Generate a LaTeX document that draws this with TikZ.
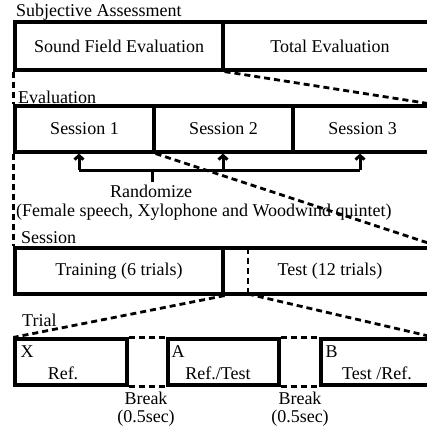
\documentclass[tikz,border=0pt]{standalone}
\usepackage{fontspec}
\setmainfont{Liberation Serif}
\usetikzlibrary{arrows.meta}
\newcommand\figfont{\fontsize{18}{18}\selectfont}

\begin{document}
\begin{tikzpicture}[x=1pt,y=-1pt,
  cell/.style={draw, line width=3.2pt, inner sep=0pt, minimum height=46pt, font=\figfont},
  link/.style={line width=2.8pt, dash pattern=on 6pt off 4pt},
  tag/.style={inner sep=0pt, font=\figfont},
  rnd/.style={line width=3pt}]

  \useasboundingbox (0,0) rectangle (427,428);
  \clip (0,0) rectangle (427,428);

  % subjective assessment
  \node[tag, anchor=west] (lsub) at (16,12) {Subjective Assessment};
  \node[cell, minimum width=208pt, minimum height=48pt] (sfe) at (119,46) {Sound Field Evaluation};
  \node[cell, minimum width=214pt, minimum height=48pt] (tot) at (330,46) {Total Evaluation};

  % evaluation
  \node[tag, anchor=west] (leval) at (18,97) {Evaluation};
  \node[cell, minimum width=139pt] (s1) at (84.5,129) {Session 1};
  \node[cell, minimum width=139pt] (s2) at (223.5,129) {Session 2};
  \node[cell, minimum width=139pt] (s3) at (362.5,129) {Session 3};

  \draw[link] (sfe.south west) -- (s1.north west);
  \draw[link] (sfe.south east) -- (s3.north east);

  % randomize
  \coordinate (bar1) at (79,170);
  \coordinate (bar2) at (223,170);
  \coordinate (bar3) at (360,170);
  \coordinate (stem) at (152,182);
  \draw[rnd] (bar1) -- (bar3);
  \draw[rnd] (stem) -- (stem |- bar1);
  \draw[rnd, -{Straight Barb[length=4pt, width=9pt]}] (bar1) -- (bar1 |- s1.south);
  \draw[rnd, -{Straight Barb[length=4pt, width=9pt]}] (bar2) -- (bar2 |- s2.south);
  \draw[rnd, -{Straight Barb[length=4pt, width=9pt]}] (bar3) -- (bar3 |- s3.south);
  \node[tag] (lrnd) at (151,191) {Randomize};
  \node[tag, anchor=west] (lsrc) at (16,212) {(Female speech, Xylophone and Woodwind quintet)};

  % session
  \node[tag, anchor=west] (lses) at (21,238) {Session};
  \node[cell, minimum width=208pt] (train) at (119,271) {Training (6 trials)};
  \node[cell, minimum width=214pt] (test) at (330,271) {Test (12 trials)};
  \coordinate (cut) at (248,248);
  \coordinate (cutb) at (248,294);
  \draw[link] (cut) -- (cutb);

  \draw[link] (s1.south west) -- (train.north west);
  \draw[link] (s1.south east) -- (test.north east);

  % trial
  \node[tag, anchor=west] (ltri) at (22,320) {Trial};
  \node[cell, minimum width=112pt] (xb) at (71,362) {};
  \node[cell, minimum width=111pt] (ab) at (223.5,362) {};
  \node[cell, minimum width=112pt] (bb) at (377,362) {};
  \node[tag, anchor=north west] (xl) at ([shift={(7,8)}]xb.north west) {X};
  \node[tag, anchor=north west] (al) at ([shift={(5,8)}]ab.north west) {A};
  \node[tag, anchor=north west] (bl) at ([shift={(6,8)}]bb.north west) {B};
  \node[tag] (xt) at (63,373) {Ref.};
  \node[tag] (at) at (218,373) {Ref./Test};
  \node[tag] (bt) at (377,373) {Test /Ref.};

  \draw[link] (train.south east) -- (xb.north west);
  \draw[link] (cutb) -- (bb.north east);
  \draw[link] (xb.north east) -- (ab.north west);
  \draw[link] (xb.south east) -- (ab.south west);
  \draw[link] (ab.north east) -- (bb.north west);
  \draw[link] (ab.south east) -- (bb.south west);

  \node[tag, align=center] (brk1) at (146,409) {Break\\(0.5sec)};
  \node[tag, align=center] (brk2) at (300,409) {Break\\(0.5sec)};
\end{tikzpicture}
\end{document}
